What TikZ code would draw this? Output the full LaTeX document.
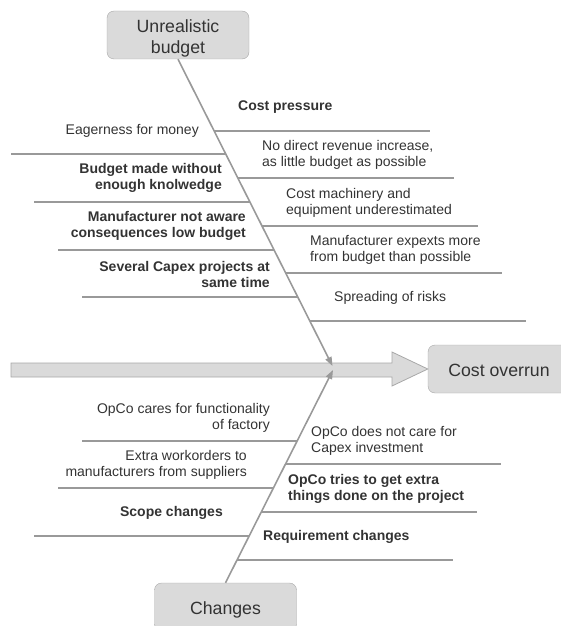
\documentclass[tikz,border=0pt]{standalone}
\usepackage{fontspec}
\setmainfont{Liberation Sans}
\usetikzlibrary{arrows.meta}
\definecolor{txt}{HTML}{333333}
\definecolor{ln}{HTML}{999999}
\definecolor{boxfill}{HTML}{DADADA}
\definecolor{boxline}{HTML}{A8A8A8}
\begin{document}
\begin{tikzpicture}[x=1pt,y=-1pt,
  lbl/.style={inner sep=0pt, text=txt, font=\fontsize{14}{16}\selectfont},
  lblb/.style={inner sep=0pt, text=txt, font=\fontsize{14}{16}\selectfont\bfseries},
  branch/.style={draw=ln, line width=1.6pt},
  spine/.style={draw=ln, line width=1.6pt, -{Triangle[length=9pt,width=6.5pt]}},
  causebox/.style={draw=boxline, fill=boxfill, rounded corners=7pt, minimum width=142pt,
    minimum height=48pt, inner sep=0pt, text=txt, font=\fontsize{17.7}{21}\selectfont, align=center},
  boxtext/.style={inner sep=0pt, text=txt, font=\fontsize{17.7}{21}\selectfont, align=center}]
\useasboundingbox (0,0) rectangle (561,626);
\clip (0,0) rectangle (561,626);

% boxes
\node[causebox, label={[boxtext, yshift=-3pt]center:{Unrealistic\\budget}}] (top) at (178,35) {};
\node[causebox, text height=18.7pt, text depth=3.4pt] (bot) at (225.5,607) {Changes};
\node[causebox, text height=15pt, text depth=0pt] (eff) at (499,369) {Cost overrun};

% main arrow band
\draw[draw=boxline, fill=boxfill, line width=0.8pt]
  (11,363) coordinate (b0) -- (392,363) -- (392,352) -- (eff.west) -- (392,386) -- (392,377) -- (11,377) -- cycle;

% spines
\coordinate (tipU) at (332.5,366);
\coordinate (tipL) at (333,370);
\draw[spine] (top.south) -- (tipU);
\draw[spine] (bot.north) -- (tipL);

% upper right branches
\draw[branch] (214.2,131) coordinate (r1s) -- (430,131) coordinate (r1e);
\draw[branch] (237.9,178) coordinate (r2s) -- (454,178) coordinate (r2e);
\draw[branch] (262.1,226) coordinate (r3s) -- (478,226) coordinate (r3e);
\draw[branch] (285.7,273) coordinate (r4s) -- (502,273) coordinate (r4e);
\draw[branch] (309.9,321) coordinate (r5s) -- (526,321) coordinate (r5e);
% upper left branches
\draw[branch] (11,154) coordinate (l1s) -- (225.8,154) coordinate (l1e);
\draw[branch] (34,202) coordinate (l2s) -- (250,202) coordinate (l2e);
\draw[branch] (58,250) coordinate (l3s) -- (274.1,250) coordinate (l3e);
\draw[branch] (82,297) coordinate (l4s) -- (297.8,297) coordinate (l4e);
% lower left branches
\draw[branch] (82,441) coordinate (m1s) -- (296.8,441) coordinate (m1e);
\draw[branch] (58,488) coordinate (m2s) -- (273.2,488) coordinate (m2e);
\draw[branch] (34,536) coordinate (m3s) -- (249.1,536) coordinate (m3e);
% lower right branches
\draw[branch] (285.3,464) coordinate (n1s) -- (501,464) coordinate (n1e);
\draw[branch] (261.2,512) coordinate (n2s) -- (477,512) coordinate (n2e);
\draw[branch] (237.1,560) coordinate (n3s) -- (453,560) coordinate (n3e);

% upper right labels
\node[lblb, anchor=west] (t1) at (238,107) {Cost pressure};
\node[lbl, anchor=west, align=left] (t2) at (262,155) {No direct revenue increase,\\as little budget as possible};
\node[lbl, anchor=west, align=left] (t3) at (286,203) {Cost machinery and\\equipment underestimated};
\node[lbl, anchor=west, align=left] (t4) at (310,250) {Manufacturer expexts more\\from budget than possible};
\node[lbl, anchor=west] (t5) at (334,298) {Spreading of risks};
% upper left labels
\node[lbl, anchor=east] (s1) at (199,131) {Eagerness for money};
\node[lblb, anchor=east, align=right] (s2) at (222,178) {Budget made without\\enough knolwedge};
\node[lblb, anchor=east, align=right] (s3) at (246,226) {Manufacturer not aware\\consequences low budget};
\node[lblb, anchor=east, align=right] (s4) at (270,274) {Several Capex projects at\\same time};
% lower left labels
\node[lbl, anchor=east, align=right] (p1) at (270,418) {OpCo cares for functionality\\of factory};
\node[lbl, anchor=east, align=right] (p2) at (247,465) {Extra workorders to\\manufacturers from suppliers};
\node[lblb, anchor=east] (p3) at (223,513) {Scope changes};
% lower right labels
\node[lbl, anchor=west, align=left] (q1) at (311,441) {OpCo does not care for\\Capex investment};
\node[lblb, anchor=west, align=left] (q2) at (288,489) {OpCo tries to get extra\\things done on the project};
\node[lblb, anchor=west] (q3) at (263,537) {Requirement changes};
\end{tikzpicture}
\end{document}
